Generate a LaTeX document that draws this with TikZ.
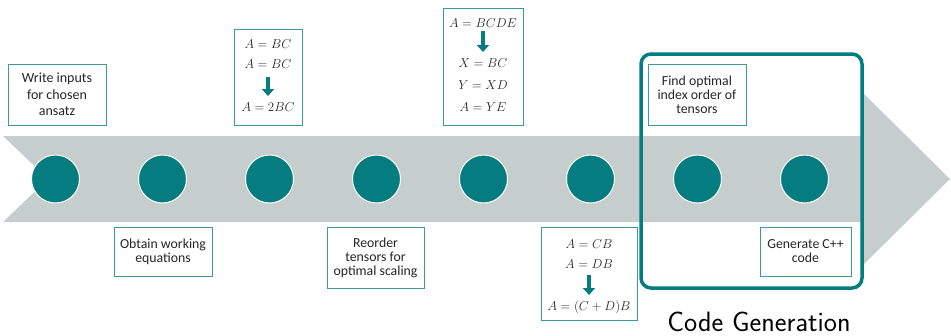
\RequirePackage{fix-cm}
\documentclass[tikz,border=0pt]{standalone}
\usepackage{fontspec}
\newfontfamily\carlito{Carlito}
\usetikzlibrary{arrows.meta}
\definecolor{teal1}{HTML}{047C80}
\definecolor{boxline}{HTML}{3C9A9D}
\definecolor{band}{HTML}{C5CDCD}
\definecolor{txt}{HTML}{262626}
\tikzset{
  x=1pt, y=-1pt,
  dot/.style={circle, fill=teal1, draw=white, line width=1pt, minimum size=48pt, inner sep=0pt},
  txtbox/.style={draw=boxline, line width=0.9pt, fill=white, align=center, inner sep=0pt, text=txt,
    font=\carlito\fontsize{13.8}{14}\selectfont},
  eqbox/.style={draw=boxline, line width=0.9pt, fill=white, inner sep=0pt},
  eq/.style={inner sep=0pt, text=txt, font=\fontsize{12.9}{15}\selectfont},
  blockarrow/.style={draw=teal1, line width=4.5pt, -{Triangle[width=12pt,length=7pt]}},
  frame/.style={draw=teal1, line width=3.5pt, rounded corners=10pt}
}
\begin{document}
\begin{tikzpicture}
\useasboundingbox (0,0) rectangle (951,335);
% band
\fill[band] (0,136) -- (863,136) -- (863,93) -- (950,179) -- (863,265) -- (863,222)
  -- (3,222) -- (48,179) -- (3,136) -- cycle;
% circles
\foreach \i in {1,...,8} {
  \node[dot] (c\i) at ({55.5+107*(\i-1)},179) {};
}
% text boxes
\node[txtbox, minimum width=98pt, minimum height=61pt,
  font=\carlito\fontsize{14}{16.7}\selectfont] (b1) at (57,94.5) {Write inputs\\for chosen\\ansatz};
\node[txtbox, minimum width=98pt, minimum height=49pt] (b2) at (163,251.5) {Obtain working\\equations};
\node[txtbox, minimum width=97pt, minimum height=61pt] (b4) at (375.5,257.5) {Reorder\\tensors for\\optimal scaling};
\node[txtbox, minimum width=98pt, minimum height=61pt] (b7) at (697,94.5) {Find optimal\\index order of\\tensors};
\node[txtbox, minimum width=91pt, minimum height=49pt] (b8) at (805.5,251.5) {Generate C++\\code};
% equation box 3
\node[eqbox, minimum width=68pt, minimum height=96pt] (b3) at (268,77) {};
\node[eq] (e31) at (268,44) {$A = BC$};
\node[eq] (e32) at (268,64) {$A = BC$};
\node[eq] (e33) at (268,107) {$A = 2BC$};
\coordinate (a3s) at (268,77);
\coordinate (a3e) at (268,96);
\draw[blockarrow] (a3s) -- (a3e);
% equation box 5
\node[eqbox, minimum width=80pt, minimum height=117pt] (b5) at (483,66.5) {};
\node[eq] (e51) at (483,23) {$A = BCDE$};
\node[eq] (e52) at (483,63) {$X = BC$};
\node[eq] (e53) at (483,85.5) {$Y = XD$};
\node[eq] (e54) at (483,107) {$A = YE$};
\coordinate (a5s) at (483,31);
\coordinate (a5e) at (483,52);
\draw[blockarrow] (a5s) -- (a5e);
% equation box 6
\node[eqbox, minimum width=96pt, minimum height=93pt] (b6) at (589,273.5) {};
\node[eq] (e61) at (589,244) {$A = CB$};
\node[eq] (e62) at (589,264) {$A = DB$};
\node[eq] (e63) at (589,307) {$A = (C + D)B$};
\coordinate (a6s) at (589,275);
\coordinate (a6e) at (589,295);
\draw[blockarrow] (a6s) -- (a6e);
% frame
\node[frame, minimum width=221pt, minimum height=234pt, inner sep=0pt] (fr) at (751.5,171) {};
\node[anchor=base, inner sep=0pt, font=\sffamily\fontsize{28}{30}\selectfont] (cg) at (759,331) {Code Generation};
\end{tikzpicture}
\end{document}
